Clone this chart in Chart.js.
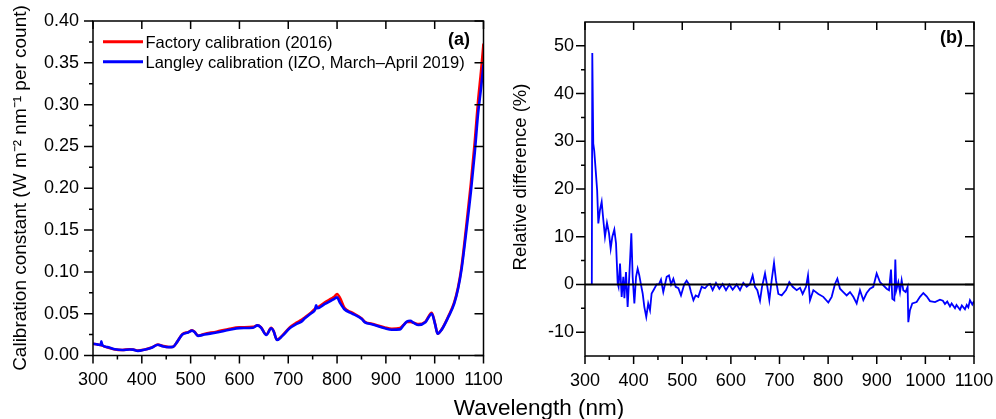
<!DOCTYPE html>
<html>
<head>
<meta charset="utf-8">
<title>Calibration constant and relative difference</title>
<script src="https://cdn.jsdelivr.net/npm/chart.js@4.4.1/dist/chart.umd.min.js"></script>
<style>
  body { margin: 0; background: #fff; }
  #wrap { position: relative; width: 996px; height: 419px; overflow: hidden; }
  canvas { position: absolute; top: 0; }
  #chartA { left: 0; }
  #chartB { left: 498px; }
  #xTitle {
    position: absolute; left: 389px; width: 300px; top: 396px;
    text-align: center; font: 22.5px/23px "Liberation Sans", Arial, sans-serif; color: #000;
  }
</style>
</head>
<body>
<div id="wrap">
  <canvas id="chartA" width="520" height="419"></canvas>
  <canvas id="chartB" width="498" height="419"></canvas>
  <div id="xTitle">Wavelength (nm)</div>
</div>
<script>
// ---- panel (a): calibration constants (W m-2 nm-1 per count) ----
const wlA = [300, 310, 316, 317, 319, 330, 345, 360, 375, 382, 392, 405, 420, 433, 442, 455, 464, 472, 483, 495,
  503, 508, 515, 528, 553, 580, 600, 628, 637, 644, 655, 665, 670, 677, 688, 703, 717, 727, 734, 747,
  755, 757, 760, 775, 788, 795, 800, 806, 815, 830, 850, 858, 871, 898, 912, 929, 936, 943, 950, 957,
  967, 981, 994, 1001, 1006, 1014, 1028, 1040, 1048, 1055, 1064, 1074, 1082, 1089, 1095, 1100];
const factory = [0.0140, 0.0130, 0.0125, 0.0122, 0.0118, 0.0095, 0.0072, 0.0066, 0.0075, 0.0072, 0.0058, 0.0070, 0.0095, 0.0130, 0.0115, 0.0102, 0.0105, 0.0160, 0.0255, 0.0280,
  0.0302, 0.0285, 0.0238, 0.0258, 0.0285, 0.0320, 0.0337, 0.0342, 0.0362, 0.0338, 0.0250, 0.0330, 0.0292, 0.0188, 0.0240, 0.0335, 0.0392, 0.0425, 0.0455, 0.0515,
  0.0560, 0.0568, 0.0575, 0.0635, 0.0680, 0.0705, 0.0736, 0.0690, 0.0570, 0.0515, 0.0445, 0.0400, 0.0380, 0.0335, 0.0320, 0.0330, 0.0365, 0.0400, 0.0400, 0.0392,
  0.0375, 0.0405, 0.0510, 0.0375, 0.0262, 0.0310, 0.0470, 0.0635, 0.0820, 0.1060, 0.1510, 0.2050, 0.2550, 0.3050, 0.3400, 0.3730];
const langley = [0.0140, 0.0130, 0.0125, 0.0170, 0.0125, 0.0100, 0.0075, 0.0066, 0.0072, 0.0070, 0.0055, 0.0068, 0.0092, 0.0128, 0.0112, 0.0100, 0.0103, 0.0160, 0.0250, 0.0275,
  0.0298, 0.0280, 0.0235, 0.0250, 0.0275, 0.0308, 0.0327, 0.0332, 0.0360, 0.0335, 0.0245, 0.0325, 0.0290, 0.0185, 0.0235, 0.0325, 0.0377, 0.0405, 0.0445, 0.0505,
  0.0550, 0.0600, 0.0565, 0.0616, 0.0656, 0.0680, 0.0695, 0.0630, 0.0553, 0.0505, 0.0440, 0.0392, 0.0375, 0.0325, 0.0308, 0.0312, 0.0360, 0.0405, 0.0415, 0.0390,
  0.0365, 0.0398, 0.0500, 0.0370, 0.0260, 0.0305, 0.0460, 0.0620, 0.0800, 0.1030, 0.1450, 0.1950, 0.2420, 0.2900, 0.3200, 0.3480];

// ---- panel (b): relative difference (%) ----
const wlB = [314, 315, 317, 319, 322, 325, 327.4, 330.8, 334.3, 337.7, 341.1, 345.2, 349.4, 352.8, 356.2, 360.3, 363.8, 367.2, 369, 372,
  375.4, 378.8, 381, 384.3, 387.7, 391, 395.3, 398, 401.5, 405, 408.3, 411.7, 415, 418.6, 422, 426, 430, 433.7, 437, 442,
  447.4, 452, 456.3, 461, 468, 472.7, 477, 481.7, 486.5, 492, 497.4, 504, 509, 514, 518, 523, 527.6, 533, 540, 546.8,
  553.6, 557, 562.5, 569.4, 576.3, 583.1, 590, 596.8, 603.7, 611.9, 618.8, 625.6, 632.5, 639.3, 644.8, 649.6, 654.4, 659.9, 664, 670.2,
  675, 679.1, 683.9, 688.7, 692.8, 697.6, 704.5, 713.4, 720.2, 727.1, 735.3, 742.2, 747.6, 754.5, 758.6, 762.7, 769.6, 779.9, 790.1, 800.4,
  807.3, 814.1, 819, 824.4, 831.2, 838.1, 845, 851.8, 858.7, 865.5, 872.4, 879.2, 886.1, 892.9, 899.8, 906.6, 913.5, 920.4, 925.2, 929.3,
  932, 936.1, 938.2, 940.2, 944.4, 947.8, 951.2, 954.6, 959.4, 963.5, 964.9, 968.3, 973.1, 982, 988.9, 995.8, 1002.6, 1009.5, 1019.8, 1030,
  1036, 1040.3, 1045, 1050.6, 1054, 1060.9, 1064, 1071.2, 1075, 1081.4, 1085, 1088.3, 1091.7, 1096.5, 1100];
const relDiff = [0, 48.5, 29.5, 28, 23.9, 19.7, 12.8, 15.6, 17.3, 13.5, 10, 12.9, 10.7, 7.5, 10, 11.5, 8.6, 0.2, -0.5, 4.4,
  -2.6, 1.6, -2.9, 2.6, -4.7, 1.6, 10.7, 1.6, -4.0, 1.6, 3.3, 1.9, 0, -1.9, -4.7, -6.8, -4.0, -5.4, -1.9, -1.0,
  0, 0, 1.0, -1.6, 1.6, 1.9, 0, 1.2, -0.5, -0.8, -2.3, 0, 0.8, 0, -1.6, -3.3, -2.3, -2.6, -0.5, -0.8,
  0, 0.1, -1.2, 0.3, -0.9, 0.1, -1.2, 0, -1.1, 0, -1.2, 0.3, -0.5, 0.1, 1.9, -0.5, -1.2, -3.4, -0.5, 2.3,
  -0.5, -3.3, 0.9, 4.5, 0.9, -2.0, -2.3, -1.2, 0.5, -0.5, -1.2, -0.7, -2.0, -0.5, 1.9, -3.3, -1.2, -2.0, -2.6, -3.8,
  -2.6, 0.1, 1.2, -0.9, -1.6, -2.3, -1.6, -2.6, -4.0, -1.2, -3.3, -1.8, -0.9, -0.5, 2.3, 0.5, -0.2, -0.9, -1.2, 3.1,
  -3.0, -3.3, 5.2, -1.2, 0.5, -1.6, 0.9, -1.2, -1.6, -0.5, -7.9, -5.4, -4.0, -3.7, -2.6, -1.8, -2.5, -3.5, -3.7, -3.2,
  -3.4, -4.1, -3.6, -4.6, -4.0, -5.0, -4.3, -5.3, -4.4, -5.2, -4.3, -4.8, -3.3, -4.2, -3.5];
const zeroX = [300, 1100];
const zeroY = [0, 0];

// tick labels
const xTicks = [300, 400, 500, 600, 700, 800, 900, 1000, 1100];
const yTicksA = [0, 0.05, 0.10, 0.15, 0.20, 0.25, 0.30, 0.35, 0.40];
const yTicksB = [-10, 0, 10, 20, 30, 40, 50];

const FONT = '"Liberation Sans", Arial, sans-serif';
const toXY = (xs, ys) => xs.map((x, i) => ({ x: x, y: ys[i] }));
const setTicks = vals => s => { s.ticks = vals.map(v => ({ value: v })); };

// frame, ticks (out on bottom/left, in on top/right), y title, tag and legend
const panelDeco = {
  id: 'panelDeco',
  afterDraw(chart, args, o) {
    const { ctx, chartArea: a } = chart;
    const sx = chart.scales.x, sy = chart.scales.y;
    ctx.save();
    ctx.strokeStyle = '#000';
    ctx.lineWidth = 1.5;
    ctx.strokeRect(a.left, a.top, a.right - a.left, a.bottom - a.top);

    ctx.beginPath();
    const xv = sx.ticks.map(t => t.value);
    xv.forEach((v, i) => {
      const p = sx.getPixelForValue(v);
      ctx.moveTo(p, a.bottom); ctx.lineTo(p, a.bottom + 8);
      ctx.moveTo(p, a.top); ctx.lineTo(p, a.top + 8);
      if (i < xv.length - 1) {
        const m = sx.getPixelForValue((v + xv[i + 1]) / 2);
        ctx.moveTo(m, a.bottom); ctx.lineTo(m, a.bottom + 4);
      }
    });
    const yv = sy.ticks.map(t => t.value);
    const step = yv[1] - yv[0];
    yv.forEach((v) => {
      const p = sy.getPixelForValue(v);
      ctx.moveTo(a.left, p); ctx.lineTo(a.left - 9, p);
      ctx.moveTo(a.right, p); ctx.lineTo(a.right - 9, p);
    });
    // minor ticks halfway, also below the first / above the last major if still in range
    for (let i = -1; i < yv.length; i++) {
      const mv = i < 0 ? yv[0] - step / 2 : yv[i] + step / 2;
      if (mv <= sy.min || mv >= sy.max) continue;
      const m = sy.getPixelForValue(mv);
      ctx.moveTo(a.left, m); ctx.lineTo(a.left - 4, m);
    }
    ctx.stroke();
    ctx.restore();

    // y title
    ctx.save();
    ctx.fillStyle = '#000';
    ctx.font = o.titleFont + ' ' + FONT;
    ctx.textAlign = 'center';
    ctx.textBaseline = 'alphabetic';
    ctx.translate(o.titleX, o.titleY);
    ctx.rotate(-Math.PI / 2);
    ctx.fillText(o.title, 0, 0);
    ctx.restore();

    // panel tag
    ctx.save();
    ctx.fillStyle = '#000';
    ctx.font = 'bold 18px ' + FONT;
    ctx.textAlign = 'right';
    ctx.fillText(o.tag, o.tagX, o.tagY);

    // legend
    if (o.legend) {
      ctx.font = '16.5px ' + FONT;
      ctx.textAlign = 'left';
      o.legend.forEach((idx, row) => {
        const ds = chart.data.datasets[idx];
        const ly = 41.7 + row * 20;
        ctx.strokeStyle = ds.borderColor;
        ctx.lineWidth = 3;
        ctx.beginPath();
        ctx.moveTo(103, ly); ctx.lineTo(143, ly);
        ctx.stroke();
        ctx.fillText(ds.label, 145.5, ly + 6);
      });
    }
    ctx.restore();
  }
};

const tickFont = { family: FONT, size: 18 };

document.addEventListener("DOMContentLoaded", function() {
  // (a) calibration constants
  new Chart(document.getElementById("chartA").getContext("2d"), {
    type: "line",
    data: {
      datasets: [{
        label: "Factory calibration (2016)",
        data: toXY(wlA, factory),
        borderColor: "#ff0000",
        borderWidth: 2.6,
        order: 2
      }, {
        label: "Langley calibration (IZO, March\u2013April 2019)",
        data: toXY(wlA, langley),
        borderColor: "#0000ff",
        borderWidth: 2.6,
        order: 1
      }]
    },
    options: {
      responsive: false,
      animation: false,
      layout: { padding: { top: 21, right: 36.5, left: 0, bottom: 0 } },
      elements: { point: { radius: 0 }, line: { cubicInterpolationMode: "monotone" } },
      plugins: {
        legend: { display: false },
        tooltip: { enabled: false },
        panelDeco: {
          title: "Calibration constant (W m\u207B\u00B2 nm\u207B\u00B9 per count)",
          titleFont: "19px", titleX: 26, titleY: 188,
          tag: "(a)", tagX: 470, tagY: 45,
          legend: [0, 1]
        }
      },
      scales: {
        x: {
          type: "linear", min: 300, max: 1100,
          afterBuildTicks: setTicks(xTicks),
          ticks: { padding: 14, color: "#000", font: tickFont, maxRotation: 0, callback: v => String(v) },
          grid: { display: false, drawTicks: false },
          border: { display: false },
          afterFit: s => { s.height = 63.5; s.paddingLeft = 0; s.paddingRight = 0; }
        },
        y: {
          min: 0, max: 0.4,
          afterBuildTicks: setTicks(yTicksA),
          ticks: { padding: 14, color: "#000", font: tickFont, callback: v => v.toFixed(2) },
          grid: { display: false, drawTicks: false },
          border: { display: false },
          afterFit: s => { s.width = 93; s.paddingTop = 0; s.paddingBottom = 0; }
        }
      }
    },
    plugins: [panelDeco]
  });

  // (b) relative difference
  new Chart(document.getElementById("chartB").getContext("2d"), {
    type: "line",
    data: {
      datasets: [{
        label: "zero",
        data: toXY(zeroX, zeroY),
        borderColor: "#000",
        borderWidth: 2
      }, {
        label: "Relative difference",
        data: toXY(wlB, relDiff),
        borderColor: "#0000ff",
        borderWidth: 1.8
      }]
    },
    options: {
      responsive: false,
      animation: false,
      layout: { padding: { top: 22, right: 22, left: 0, bottom: 0 } },
      elements: { point: { radius: 0 }, line: { tension: 0 } },
      plugins: {
        legend: { display: false },
        tooltip: { enabled: false },
        panelDeco: {
          title: "Relative difference (%)",
          titleFont: "18.5px", titleX: 28, titleY: 177,
          tag: "(b)", tagX: 465, tagY: 43
        }
      },
      scales: {
        x: {
          type: "linear", min: 300, max: 1100,
          afterBuildTicks: setTicks(xTicks),
          ticks: { padding: 14, color: "#000", font: tickFont, maxRotation: 0, callback: v => String(v) },
          grid: { display: false, drawTicks: false },
          border: { display: false },
          afterFit: s => { s.height = 63; s.paddingLeft = 0; s.paddingRight = 0; }
        },
        y: {
          min: -15, max: 55,
          afterBuildTicks: setTicks(yTicksB),
          ticks: { padding: 11, color: "#000", font: tickFont, callback: v => String(v) },
          grid: { display: false, drawTicks: false },
          border: { display: false },
          afterFit: s => { s.width = 87; s.paddingTop = 0; s.paddingBottom = 0; }
        }
      }
    },
    plugins: [panelDeco]
  });
});
</script>
</body>
</html>
